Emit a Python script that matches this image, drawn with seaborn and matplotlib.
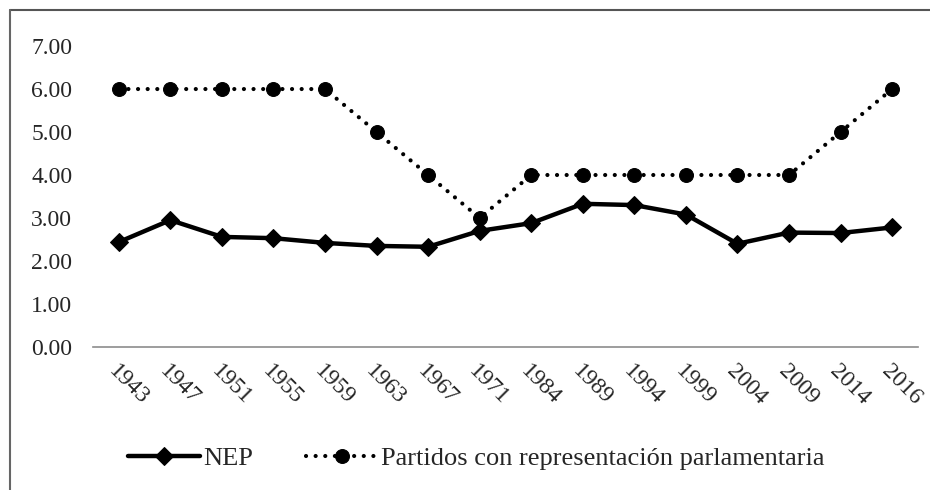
import pandas as pd
import matplotlib
matplotlib.use("Agg")
import matplotlib.pyplot as plt
from matplotlib.lines import Line2D
import seaborn as sns

# ── Data ─────────────────────────────────────────────────
years    = ["1943", "1947", "1951", "1955", "1959", "1963", "1967", "1971",
            "1984", "1989", "1994", "1999", "2004", "2009", "2014", "2016"]
nep      = [2.44, 2.95, 2.56, 2.53, 2.42, 2.35, 2.33, 2.70,
            2.88, 3.33, 3.30, 3.08, 2.40, 2.66, 2.65, 2.78]
partidos = [6, 6, 6, 6, 6, 5, 4, 3, 4, 4, 4, 4, 4, 4, 5, 6]
yticks   = [0, 1, 2, 3, 4, 5, 6, 7]

df = pd.DataFrame({"year": years, "NEP": nep, "partidos": partidos})

# ── Style ────────────────────────────────────────────────
sns.set_style("white")
plt.rcParams["font.family"] = ["Liberation Serif", "DejaVu Serif"]
FS = 17

fig = plt.figure(figsize=(9.3, 4.9), dpi=100)
ax = fig.add_axes([0.1, 0.292, 0.887, 0.614])

sns.lineplot(data=df, x="year", y="NEP", ax=ax, color="black",
             linewidth=3.2, marker="D", markersize=9, markeredgecolor="black",
             sort=False, label="NEP")
sns.lineplot(data=df, x="year", y="partidos", ax=ax, color="black",
             linewidth=3.0, linestyle=(0, (0.01, 2.3)), dash_capstyle="round",
             marker="o", markersize=10, markeredgecolor="black",
             sort=False, label="Partidos con representación parlamentaria")

ax.set_xlim(-0.5, len(years) - 0.5)
ax.set_ylim(0, 7)
ax.set_yticks(yticks)
ax.set_yticklabels([f"{v:.2f}" for v in yticks], fontsize=FS)
ax.set_xticks(range(len(years)))
ax.set_xticklabels(years, fontsize=FS, rotation=-45, ha="left",
                   va="top", rotation_mode="anchor")
ax.tick_params(axis="x", pad=10, length=0)
ax.tick_params(axis="y", pad=15, length=0)
ax.set_xlabel("")
ax.set_ylabel("")
for s in ["top", "right", "left"]:
    ax.spines[s].set_visible(False)
ax.spines["bottom"].set_color("#8c8c8c")
ax.spines["bottom"].set_linewidth(1.2)
ax.grid(False)

ax.legend(loc="center", bbox_to_anchor=(0.465, -0.37), ncol=2, frameon=False,
          fontsize=19, handlelength=2.7, columnspacing=2.0, handletextpad=0.15)

# outer frame (top & left edges visible)
fig.add_artist(Line2D([10/930, 1], [1 - 10/490, 1 - 10/490],
                      transform=fig.transFigure, color="#555555", lw=1.5))
fig.add_artist(Line2D([10/930, 10/930], [0, 1 - 10/490],
                      transform=fig.transFigure, color="#666666", lw=1.5))

fig.savefig("out.png", dpi=100)
